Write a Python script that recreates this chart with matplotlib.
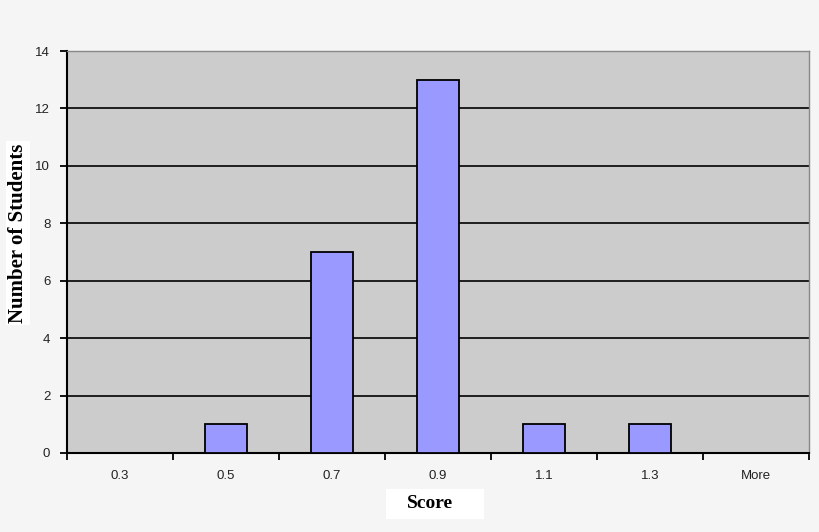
import matplotlib.pyplot as plt
from matplotlib.patches import Rectangle
import numpy as np

# --- Data ---
bins = ["0.3", "0.5", "0.7", "0.9", "1.1", "1.3", "More"]
counts = [0, 1, 7, 13, 1, 1, 0]

bg_color = "#f5f5f5"
plot_color = "#cccccc"
bar_color = "#9999ff"

fig = plt.figure(figsize=(8.2, 5.32), dpi=100)
fig.set_facecolor(bg_color)
ax = fig.add_axes([0.0817, 0.1485, 0.905, 0.7556])
ax.set_facecolor(plot_color)

x = np.arange(len(bins))
ax.bar(x, counts, width=0.4, color=bar_color, edgecolor="black", linewidth=1.3, zorder=3)

ax.set_xlim(-0.5, len(bins) - 0.5)
ax.set_ylim(0, 14)
ax.set_yticks(range(0, 15, 2))
ax.yaxis.grid(True, color="black", linewidth=1.2, zorder=1)
ax.set_axisbelow(True)

# category labels centred, tick marks on the boundaries
ax.set_xticks(x)
ax.set_xticklabels(bins, fontsize=9.5, family="Liberation Sans", color="#222222")
ax.tick_params(axis="x", which="major", length=0, pad=12)
ax.set_xticks(np.arange(-0.5, len(bins)), minor=True)
ax.tick_params(axis="x", which="minor", length=5, width=1.3, direction="out")
ax.tick_params(axis="y", length=5, width=1.3, direction="out", labelsize=9.5, pad=7)
for lbl in ax.get_yticklabels():
    lbl.set_family("Liberation Sans")
    lbl.set_color("#222222")

for side in ["left", "bottom"]:
    ax.spines[side].set_color("black")
    ax.spines[side].set_linewidth(1.5)
for side in ["top", "right"]:
    ax.spines[side].set_color("#888888")
    ax.spines[side].set_linewidth(1.0)

ax.set_ylabel("Number of Students", fontsize=15, family="Liberation Serif",
              fontweight="bold",
              bbox=dict(facecolor="white", edgecolor="none", boxstyle="square,pad=0.1"))
ax.yaxis.set_label_coords(-0.052, 0.547)

# x axis title in a white box
fig.add_artist(Rectangle((0.4707, 0.0244), 0.1195, 0.0564, transform=fig.transFigure,
                         facecolor="white", edgecolor="none"))
fig.text(0.5244, 0.0545, "Score", ha="center", va="center", fontsize=14,
         family="Liberation Serif", fontweight="bold")

fig.savefig("out.png", dpi=100, facecolor=bg_color)
